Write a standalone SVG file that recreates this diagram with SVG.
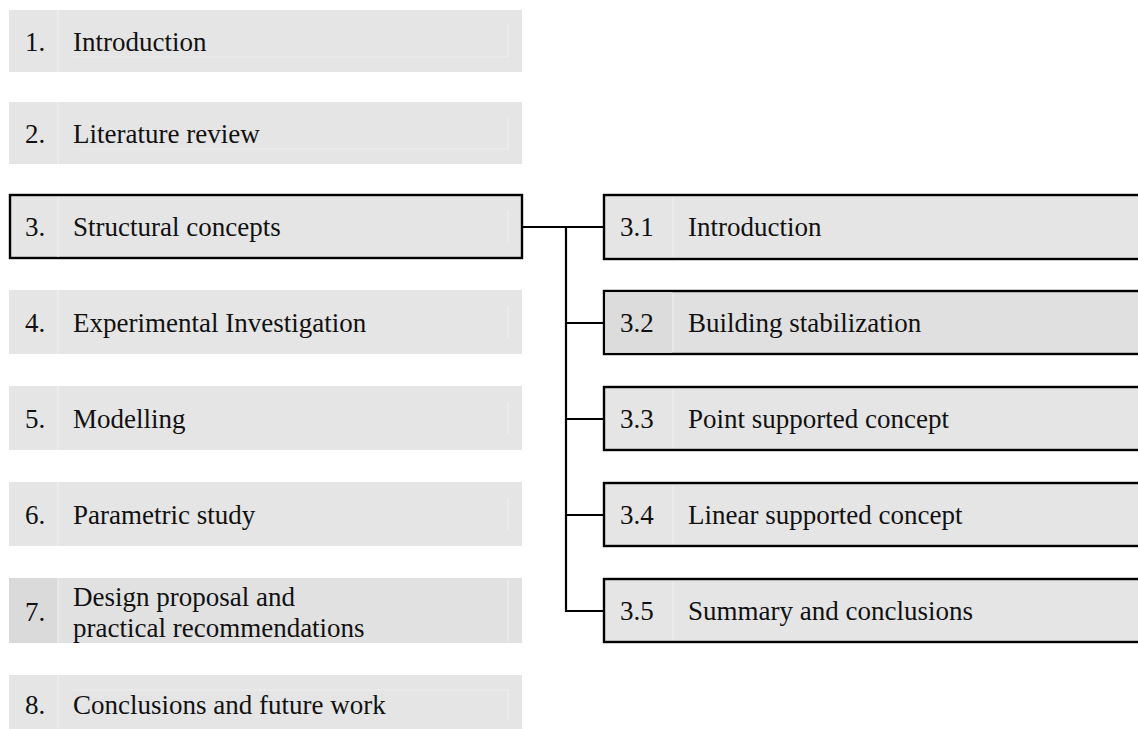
<svg xmlns="http://www.w3.org/2000/svg" width="1138" height="729" viewBox="0 0 1138 729">
<style>
.box{fill:#e5e5e5;}
.boxd{fill:#e1e1e1;}
.cell{fill:#dadada;}
.sel{fill:#e5e5e5;stroke:#000;stroke-width:2.4;}
.seld{fill:#e0e0e0;stroke:#000;stroke-width:2.4;}
.div{stroke:#eeeeee;stroke-width:1.2;fill:none;}
.t{font-family:"Liberation Serif","Times New Roman",serif;font-size:27px;fill:#111;}
.conn{stroke:#000;stroke-width:2.2;fill:none;}
</style>
<rect width="1138" height="729" fill="#fff"/>
<g id="n1">
<rect class="box" x="9" y="10" width="513" height="62"/>
<line class="div" x1="58" y1="10" x2="58" y2="72"/>
<path class="div" d="M73 57H508V25"/>
<text class="t" x="25" y="51">1.</text><text class="t" x="73" y="51">Introduction</text>
</g>
<g id="n2">
<rect class="box" x="9" y="102" width="513" height="62"/>
<line class="div" x1="58" y1="102" x2="58" y2="164"/>
<path class="div" d="M73 149H508V117"/>
<text class="t" x="25" y="143">2.</text><text class="t" x="73" y="143">Literature review</text>
</g>
<g id="n3">
<rect class="sel" x="10" y="195" width="512" height="63"/>
<line class="div" x1="58" y1="197" x2="58" y2="257"/>
<line class="div" x1="508" y1="210" x2="508" y2="243"/>
<text class="t" x="25" y="236">3.</text><text class="t" x="73" y="236">Structural concepts</text>
</g>
<g id="n4">
<rect class="box" x="9" y="290" width="513" height="64"/>
<line class="div" x1="58" y1="290" x2="58" y2="354"/>
<line class="div" x1="508" y1="306" x2="508" y2="338"/>
<text class="t" x="25" y="332">4.</text><text class="t" x="73" y="332">Experimental Investigation</text>
</g>
<g id="n5">
<rect class="box" x="9" y="386" width="513" height="64"/>
<line class="div" x1="58" y1="386" x2="58" y2="450"/>
<line class="div" x1="508" y1="402" x2="508" y2="434"/>
<text class="t" x="25" y="428">5.</text><text class="t" x="73" y="428">Modelling</text>
</g>
<g id="n6">
<rect class="box" x="9" y="482" width="513" height="64"/>
<line class="div" x1="58" y1="482" x2="58" y2="546"/>
<line class="div" x1="508" y1="498" x2="508" y2="530"/>
<text class="t" x="25" y="524">6.</text><text class="t" x="73" y="524">Parametric study</text>
</g>
<g id="n7">
<rect class="boxd" x="9" y="578" width="513" height="65"/>
<rect class="cell" x="9" y="578" width="49" height="65"/>
<line class="div" x1="58" y1="578" x2="58" y2="643"/>
<line class="div" x1="508" y1="580" x2="508" y2="641"/>
<text class="t" x="25" y="621">7.</text>
<text class="t" x="73" y="606">Design proposal and</text>
<text class="t" x="73" y="637">practical recommendations</text>
</g>
<g id="n8">
<rect class="box" x="9" y="675" width="513" height="64"/>
<line class="div" x1="58" y1="675" x2="58" y2="739"/>
<path class="div" d="M73 690H508V720"/>
<text class="t" x="25" y="714">8.</text><text class="t" x="73" y="714">Conclusions and future work</text>
</g>
<g id="n31">
<rect class="sel" x="604" y="195" width="540" height="64"/>
<line class="div" x1="673" y1="197" x2="673" y2="257"/>
<text class="t" x="620" y="236">3.1</text><text class="t" x="688" y="236">Introduction</text>
</g>
<g id="n32">
<rect class="seld" x="604" y="291" width="540" height="63"/>
<rect x="605.2" y="292.2" width="67" height="60.6" fill="#dcdcdc"/>
<line class="div" x1="673" y1="293" x2="673" y2="352"/>
<text class="t" x="620" y="332">3.2</text><text class="t" x="688" y="332">Building stabilization</text>
</g>
<g id="n33">
<rect class="sel" x="604" y="387" width="540" height="63"/>
<line class="div" x1="673" y1="389" x2="673" y2="448"/>
<text class="t" x="620" y="428">3.3</text><text class="t" x="688" y="428">Point supported concept</text>
</g>
<g id="n34">
<rect class="sel" x="604" y="483" width="540" height="63"/>
<line class="div" x1="673" y1="485" x2="673" y2="544"/>
<text class="t" x="620" y="524">3.4</text><text class="t" x="688" y="524">Linear supported concept</text>
</g>
<g id="n35">
<rect class="sel" x="604" y="579" width="540" height="63"/>
<line class="div" x1="673" y1="581" x2="673" y2="640"/>
<text class="t" x="620" y="620">3.5</text><text class="t" x="688" y="620">Summary and conclusions</text>
</g>
<g id="connectors">
<path class="conn" d="M523 227H604"/>
<path class="conn" d="M566 226V611H604"/>
<path class="conn" d="M566 323H604"/>
<path class="conn" d="M566 419H604"/>
<path class="conn" d="M566 515H604"/>
</g>
</svg>
